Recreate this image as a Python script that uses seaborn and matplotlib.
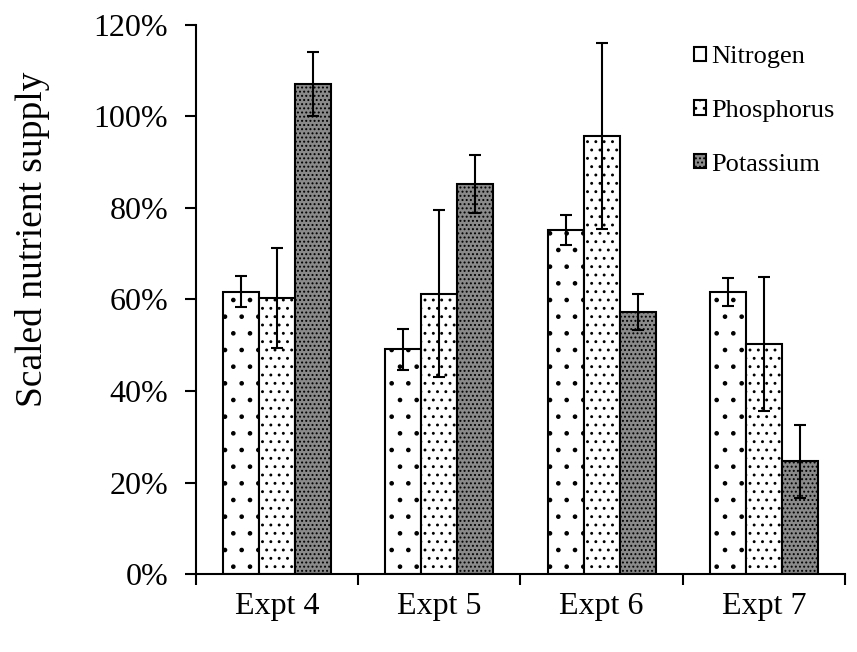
import matplotlib
matplotlib.use("Agg")
import matplotlib.pyplot as plt
import matplotlib.ticker as mticker
import numpy as np
import pandas as pd
import seaborn as sns

# Scaled nutrient supply per experiment (fractions of 1.0) with error bar half-widths
experiments = ["Expt 4", "Expt 5", "Expt 6", "Expt 7"]
nutrients = ["Nitrogen", "Phosphorus", "Potassium"]
nitrogen = [0.617, 0.491, 0.752, 0.617]
phosphorus = [0.604, 0.613, 0.957, 0.503]
potassium = [1.070, 0.852, 0.573, 0.246]
nitrogen_err = [0.034, 0.045, 0.033, 0.031]
phosphorus_err = [0.109, 0.183, 0.203, 0.147]
potassium_err = [0.070, 0.064, 0.040, 0.079]

values = {"Nitrogen": nitrogen, "Phosphorus": phosphorus, "Potassium": potassium}
errors = {"Nitrogen": nitrogen_err, "Phosphorus": phosphorus_err, "Potassium": potassium_err}

df = pd.DataFrame(
    [(e, n, values[n][i]) for n in nutrients for i, e in enumerate(experiments)],
    columns=["experiment", "nutrient", "supply"],
)

sns.set_theme(style="white")
plt.rcParams["font.family"] = ["Liberation Serif", "DejaVu Serif"]
plt.rcParams["hatch.linewidth"] = 0.9
plt.rcParams["text.color"] = "black"
plt.rcParams["axes.labelcolor"] = "black"
plt.rcParams["xtick.color"] = "black"
plt.rcParams["ytick.color"] = "black"

fig = plt.figure(figsize=(8.57, 6.52), dpi=100)
ax = fig.add_axes([0.2287, 0.1196, 0.7573, 0.8421])

fills = {"Nitrogen": "white", "Phosphorus": "white", "Potassium": "#8a8a8a"}
hatches = {"Nitrogen": ".", "Phosphorus": "..", "Potassium": "...."}

sns.barplot(
    data=df, x="experiment", y="supply", hue="nutrient",
    order=experiments, hue_order=nutrients, palette=fills,
    width=0.667, errorbar=None, edgecolor="black", linewidth=1.5,
    legend=False, ax=ax,
)

for name, container in zip(nutrients, ax.containers):
    for bar in container:
        bar.set_hatch(hatches[name])
        bar.set_edgecolor("black")
    centers = [b.get_x() + b.get_width() / 2 for b in container]
    ax.errorbar(
        centers, values[name], yerr=errors[name], fmt="none",
        ecolor="black", elinewidth=1.5, capsize=4.3, capthick=1.5, zorder=5,
    )

ax.legend(
    ax.containers[:3], nutrients, loc="upper right",
    bbox_to_anchor=(1.012, 0.995), frameon=False, fontsize=19,
    handlelength=0.45, handleheight=0.45, handletextpad=0.2,
    labelspacing=1.2, borderaxespad=0.3,
)

ax.set_xlim(-0.5, 3.5)
ax.set_ylim(0, 1.2)
ax.yaxis.set_major_locator(mticker.MultipleLocator(0.2))
ax.yaxis.set_major_formatter(mticker.PercentFormatter(1.0, decimals=0))
ax.set_xticks(range(len(experiments)))
ax.set_xticklabels(experiments)
ax.set_xticks(np.arange(-0.5, 4.0, 1.0), minor=True)

ax.tick_params(axis="x", which="major", bottom=True, length=0, pad=13, labelsize=23,
               labelcolor="black")
ax.tick_params(axis="x", which="minor", bottom=True, length=8, width=1.5,
               direction="out", color="black")
ax.tick_params(axis="y", which="major", left=True, length=8, width=1.5, direction="out",
               color="black", pad=12, labelsize=23, labelcolor="black")

ax.set_xlabel("")
ax.set_ylabel("Scaled nutrient supply", fontsize=27, color="black")
ax.yaxis.set_label_coords(-0.225, 0.61)

for side in ("top", "right"):
    ax.spines[side].set_visible(False)
for side in ("left", "bottom"):
    ax.spines[side].set_color("black")
    ax.spines[side].set_linewidth(1.5)

fig.savefig("out.png", dpi=100)
